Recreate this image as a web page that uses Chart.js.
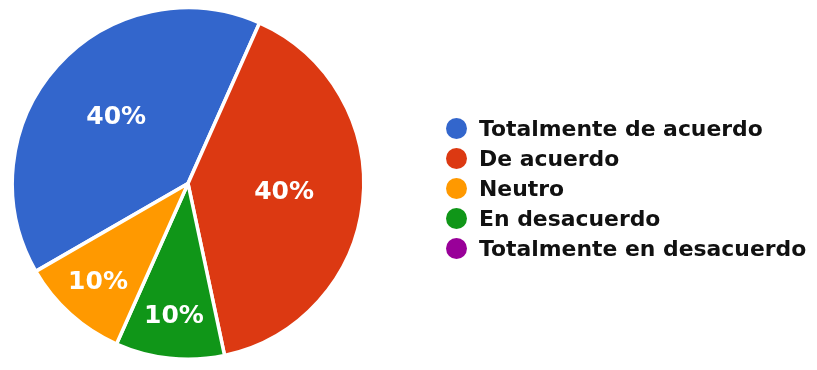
<!DOCTYPE html>
<html lang="es">
<head>
<meta charset="utf-8">
<title>Respuestas</title>
<script src="https://cdn.jsdelivr.net/npm/chart.js@4.4.1/dist/chart.umd.min.js"></script>
<style>
  html, body { margin:0; padding:0; background:#fff; }
  #wrap   { width:817px; height:370px; position:relative; }
  #legend { position:absolute; left:446px; top:113px; margin:0; padding:0; list-style:none;
            font:bold 21.9px "DejaVu Sans", sans-serif; color:#111; }
  #legend li { height:30px; display:flex; align-items:center; white-space:nowrap; }
  #legend i  { display:block; width:21px; height:21px; border-radius:50%; margin-right:12px; }
</style>
</head>
<body>
<div id="wrap">
  <canvas id="pie"></canvas>
  <ul id="legend"></ul>
</div>
<script>
/* slices in clockwise order, values in percent */
const labels = ['Totalmente de acuerdo', 'De acuerdo', 'En desacuerdo', 'Neutro', 'Totalmente en desacuerdo'];
const values = [40, 40, 10, 10, 0];
const colors = ['#3366CC', '#DC3912', '#109618', '#FF9900', '#990099'];

// legend follows the answer scale, not the slice order
const legendOrder = ['Totalmente de acuerdo', 'De acuerdo', 'Neutro', 'En desacuerdo', 'Totalmente en desacuerdo'];

/* ────────────────────────────────────────
   PERCENT LABELS inside each slice
──────────────────────────────────────── */
const sliceLabels = {
  id: 'sliceLabels',
  afterDatasetsDraw(chart) {
    const { ctx } = chart;
    const data  = chart.data.datasets[0].data;
    const total = data.reduce((s, v) => s + v, 0);
    ctx.save();
    ctx.fillStyle    = '#fff';
    ctx.font         = 'bold 25px "DejaVu Sans"';
    ctx.textAlign    = 'center';
    ctx.textBaseline = 'middle';
    chart.getDatasetMeta(0).data.forEach((arc, i) => {
      if (!data[i]) return;
      const { x, y, startAngle, endAngle, outerRadius } =
        arc.getProps(['x', 'y', 'startAngle', 'endAngle', 'outerRadius'], true);
      const share = data[i] / total;
      const mid   = (startAngle + endAngle) / 2;
      const r     = outerRadius * (share >= 0.25 ? 0.55 : 0.765);
      ctx.fillText(Math.round(share * 100) + '%', x + Math.cos(mid) * r, y + Math.sin(mid) * r - 1);
    });
    ctx.restore();
  },
};

const chart = new Chart(document.getElementById('pie'), {
  type: 'pie',
  data: {
    labels,
    datasets: [{
      data: values,
      backgroundColor: colors,
      borderColor: '#fff', borderWidth: 3.5, hoverOffset: 0,
    }],
  },
  options: {
    responsive: true, maintainAspectRatio: false, animation: false,
    rotation: 240,
    layout: { padding: { left: 10, right: 451, top: 6, bottom: 9 } },
    plugins: {
      tooltip: { enabled: false },
      legend:  { display: false },
    },
  },
  plugins: [sliceLabels],
});

/* ────────────────────────────────────────
   HTML LEGEND (built from the chart's own legend items)
──────────────────────────────────────── */
const items = Chart.overrides.pie.plugins.legend.labels.generateLabels(chart)
  .sort((a, b) => legendOrder.indexOf(a.text) - legendOrder.indexOf(b.text));

document.getElementById('legend').innerHTML = items
  .map(it => `<li><i style="background:${it.fillStyle}"></i>${it.text}</li>`)
  .join('');
</script>
</body>
</html>
